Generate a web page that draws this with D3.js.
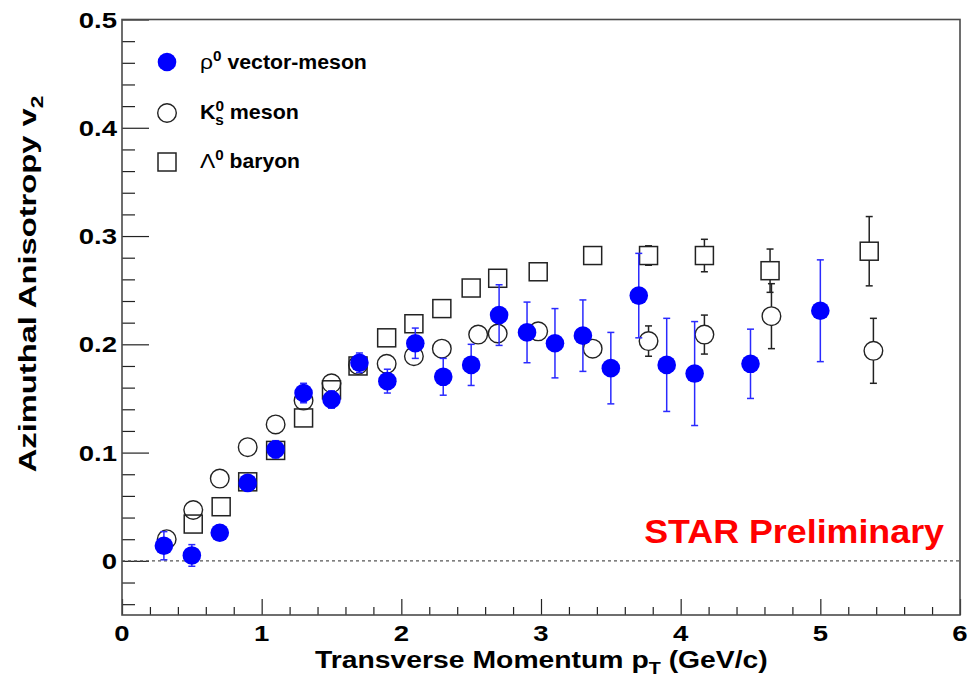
<!DOCTYPE html>
<html><head><meta charset="utf-8">
<script src="https://cdn.jsdelivr.net/npm/d3@7"></script>
<style>
html,body{margin:0;padding:0;background:#fff;}
svg{display:block;}
text{font-family:"Liberation Sans",Arial,Helvetica,sans-serif;}
</style></head>
<body>
<svg id="c" width="969" height="682"></svg>
<script>
// ---- data ----
const rhoPt  = [0.3,0.5,0.7,0.9,1.1,1.3,1.5,1.7,1.9,2.1,2.3,2.5,2.7,2.9,3.1,3.3,3.5,3.7,3.9,4.1,4.5,5.0];
const rhoV2  = [0.014,0.005,0.026,0.072,0.103,0.155,0.149,0.183,0.166,0.201,0.170,0.181,0.227,0.211,0.201,0.208,0.178,0.245,0.181,0.173,0.182,0.231];
const rhoErr = [0.013,0.010,0.007,0.005,0.008,0.009,0.008,0.009,0.011,0.014,0.017,0.019,0.028,0.028,0.032,0.033,0.033,0.039,0.043,0.048,0.032,0.047];

const k0Pt  = [0.32,0.51,0.70,0.90,1.10,1.30,1.50,1.69,1.895,2.09,2.29,2.55,2.69,2.98,3.37,3.77,4.17,4.65,5.38];
const k0V2  = [0.020,0.047,0.076,0.105,0.126,0.148,0.164,0.181,0.182,0.189,0.196,0.209,0.210,0.212,0.196,0.203,0.209,0.226,0.194];
const k0Err = [0.005,0.003,0.003,0.003,0.003,0.003,0.003,0.003,0.003,0.004,0.005,0.005,0.006,0.007,0.008,0.014,0.018,0.030,0.030];

const lamPt  = [0.51,0.71,0.90,1.10,1.30,1.50,1.69,1.895,2.09,2.29,2.50,2.69,2.98,3.37,3.77,4.17,4.64,5.35];
const lamV2  = [0.034,0.050,0.073,0.102,0.132,0.158,0.180,0.206,0.219,0.233,0.252,0.261,0.267,0.282,0.282,0.282,0.268,0.286];
const lamErr = [0.003,0.003,0.003,0.003,0.003,0.003,0.003,0.003,0.004,0.004,0.004,0.005,0.005,0.006,0.009,0.015,0.020,0.032];

const xTicks = [0,1,2,3,4,5,6];
const yTicks = [0,0.1,0.2,0.3,0.4,0.5];
const yTickLabels = ["0","0.1","0.2","0.3","0.4","0.5"];

// ---- layout ----
const svg = d3.select("#c");
const x = d3.scaleLinear().domain([0,6]).range([122,960]);
const y = d3.scaleLinear().domain([-0.05,0.5]).range([615,19.5]);
const FRAME = "#4a4a4a";
const SX = 1.25; // horizontal stretch of the original text rendering

function fit(g, target){
  const w = g.select("text").node().getBBox().width;
  return target / w;
}

// axes (ticks point inward)
const yMinor = d3.range(-0.04, 0.5001, 0.02).filter(v => Math.abs(Math.round(v*10)-v*10) > 1e-6);
const xMinor = d3.range(0.2, 6, 0.2).filter(v => Math.abs(Math.round(v)-v) > 1e-6);

const gy1 = svg.append("g").attr("transform",`translate(${x(0)},0)`)
  .call(d3.axisLeft(y).tickValues(yTicks).tickSize(-27).tickFormat(""));
const gy2 = svg.append("g").attr("transform",`translate(${x(0)},0)`)
  .call(d3.axisLeft(y).tickValues(yMinor).tickSize(-13).tickFormat(""));
const gx1 = svg.append("g").attr("transform",`translate(0,${y(-0.05)})`)
  .call(d3.axisBottom(x).tickValues(xTicks).tickSize(-16).tickFormat(""));
const gx2 = svg.append("g").attr("transform",`translate(0,${y(-0.05)})`)
  .call(d3.axisBottom(x).tickValues(xMinor).tickSize(-8).tickFormat(""));
[gy1,gy2,gx1,gx2].forEach(g=>{
  g.select(".domain").remove();
  g.selectAll("line").attr("stroke","#222").attr("stroke-width",1.2);
});

// frame
svg.append("rect").attr("x",x(0)).attr("y",y(0.5))
  .attr("width",x(6)-x(0)).attr("height",y(-0.05)-y(0.5))
  .attr("fill","none").attr("stroke",FRAME).attr("stroke-width",1.6);

// zero line
svg.append("line").attr("x1",x(0)).attr("x2",x(6)).attr("y1",y(0)).attr("y2",y(0))
  .attr("stroke","#555").attr("stroke-width",1.2).attr("stroke-dasharray","3,3");

// tick labels
yTicks.forEach((v,i)=>{
  svg.append("text").attr("transform",`translate(117,${y(v)+8}) scale(${SX},1)`)
    .attr("text-anchor","end").attr("font-size",22).attr("font-weight","bold")
    .attr("fill","#000").text(yTickLabels[i]);
});
xTicks.forEach(v=>{
  svg.append("text").attr("transform",`translate(${x(v)},641) scale(${SX},1)`)
    .attr("text-anchor","middle").attr("font-size",22).attr("font-weight","bold")
    .attr("fill","#000").text(v);
});

// axis titles
{
  const g = svg.append("g");
  const t = g.append("text").attr("font-size",23).attr("font-weight","bold").attr("fill","#000");
  t.append("tspan").text("Transverse Momentum p");
  t.append("tspan").attr("font-size",16).attr("dy",6).text("T");
  t.append("tspan").attr("dy",-6).text(" (GeV/c)");
  const s = fit(g, 453);
  g.attr("transform",`translate(315,668) scale(${s},1)`);
}
{
  const g = svg.append("g");
  const t = g.append("text").attr("font-size",23).attr("font-weight","bold").attr("fill","#000")
    .attr("text-anchor","middle");
  t.append("tspan").text("Azimuthal Anisotropy v");
  t.append("tspan").attr("font-size",16).attr("dy",7).text("2");
  const s = fit(g, 377);
  g.attr("transform",`translate(36,284) rotate(-90) scale(${s},1)`);
}

// STAR Preliminary
{
  const g = svg.append("g");
  g.append("text").attr("font-size",34).attr("font-weight","bold").attr("fill","#ff0000")
    .attr("text-anchor","end").text("STAR Preliminary");
  const s = fit(g, 300);
  g.attr("transform",`translate(944,543) scale(${s},1)`);
}

// ---- data marks ----
const R = 9.3, H = 9;
function errBars(pt, v2, err, color, gap){
  const g = svg.append("g");
  pt.forEach((p,i)=>{
    const cx = x(p), yt = y(v2[i]+err[i]), yb = y(v2[i]-err[i]), yc = y(v2[i]);
    if (yc - yt > gap) {
      g.append("line").attr("x1",cx).attr("x2",cx).attr("y1",yt).attr("y2",yc-gap)
        .attr("stroke",color).attr("stroke-width",1.5);
      g.append("line").attr("x1",cx-3.5).attr("x2",cx+3.5).attr("y1",yt).attr("y2",yt)
        .attr("stroke",color).attr("stroke-width",1.5);
    }
    if (yb - yc > gap) {
      g.append("line").attr("x1",cx).attr("x2",cx).attr("y1",yc+gap).attr("y2",yb)
        .attr("stroke",color).attr("stroke-width",1.5);
      g.append("line").attr("x1",cx-3.5).attr("x2",cx+3.5).attr("y1",yb).attr("y2",yb)
        .attr("stroke",color).attr("stroke-width",1.5);
    }
  });
}

// Lambda (open squares)
errBars(lamPt, lamV2, lamErr, "#222", H);
svg.append("g").selectAll("rect").data(lamPt).join("rect")
  .attr("x",d=>x(d)-H).attr("y",(d,i)=>y(lamV2[i])-H).attr("width",2*H).attr("height",2*H)
  .attr("fill","none").attr("stroke","#222").attr("stroke-width",1.5);

// K0s (open circles)
errBars(k0Pt, k0V2, k0Err, "#222", R);
svg.append("g").selectAll("circle").data(k0Pt).join("circle")
  .attr("cx",d=>x(d)).attr("cy",(d,i)=>y(k0V2[i])).attr("r",R)
  .attr("fill","none").attr("stroke","#222").attr("stroke-width",1.4);

// rho (filled blue)
errBars(rhoPt, rhoV2, rhoErr, "#2a2aff", 0);
svg.append("g").selectAll("circle").data(rhoPt).join("circle")
  .attr("cx",d=>x(d)).attr("cy",(d,i)=>y(rhoV2[i])).attr("r",R)
  .attr("fill","#0000ff");

// ---- legend ----
const legX = 167, legTextX = 200;
svg.append("circle").attr("cx",legX).attr("cy",62).attr("r",R).attr("fill","#0000ff");
svg.append("circle").attr("cx",legX).attr("cy",113).attr("r",R)
  .attr("fill","none").attr("stroke","#222").attr("stroke-width",1.4);
svg.append("rect").attr("x",legX-H).attr("y",162-H).attr("width",2*H).attr("height",2*H)
  .attr("fill","none").attr("stroke","#222").attr("stroke-width",1.5);

function legendText(yb, build, target){
  const g = svg.append("g");
  const t = g.append("text").attr("font-size",19.5).attr("font-weight","bold").attr("fill","#000");
  build(t);
  const s = fit(g, target);
  g.attr("transform",`translate(${legTextX},${yb}) scale(${s},1)`);
}
legendText(69, t=>{
  t.append("tspan").attr("font-weight","normal").attr("font-size",21).text("ρ");
  t.append("tspan").attr("font-size",14).attr("dy",-8).text("0");
  t.append("tspan").attr("dy",8).text(" vector-meson");
}, 167);
legendText(119, t=>{
  t.append("tspan").text("K");
  t.append("tspan").attr("font-size",14).attr("dy",-8).text("0");
  t.append("tspan").attr("font-size",14).attr("dx",-8).attr("dy",14).text("s");
  t.append("tspan").attr("dy",-6).text(" meson");
}, 99);
legendText(168, t=>{
  t.append("tspan").attr("font-weight","normal").attr("font-size",21).text("Λ");
  t.append("tspan").attr("font-size",14).attr("dy",-8).text("0");
  t.append("tspan").attr("dy",8).text(" baryon");
}, 100);
</script>
</body></html>
